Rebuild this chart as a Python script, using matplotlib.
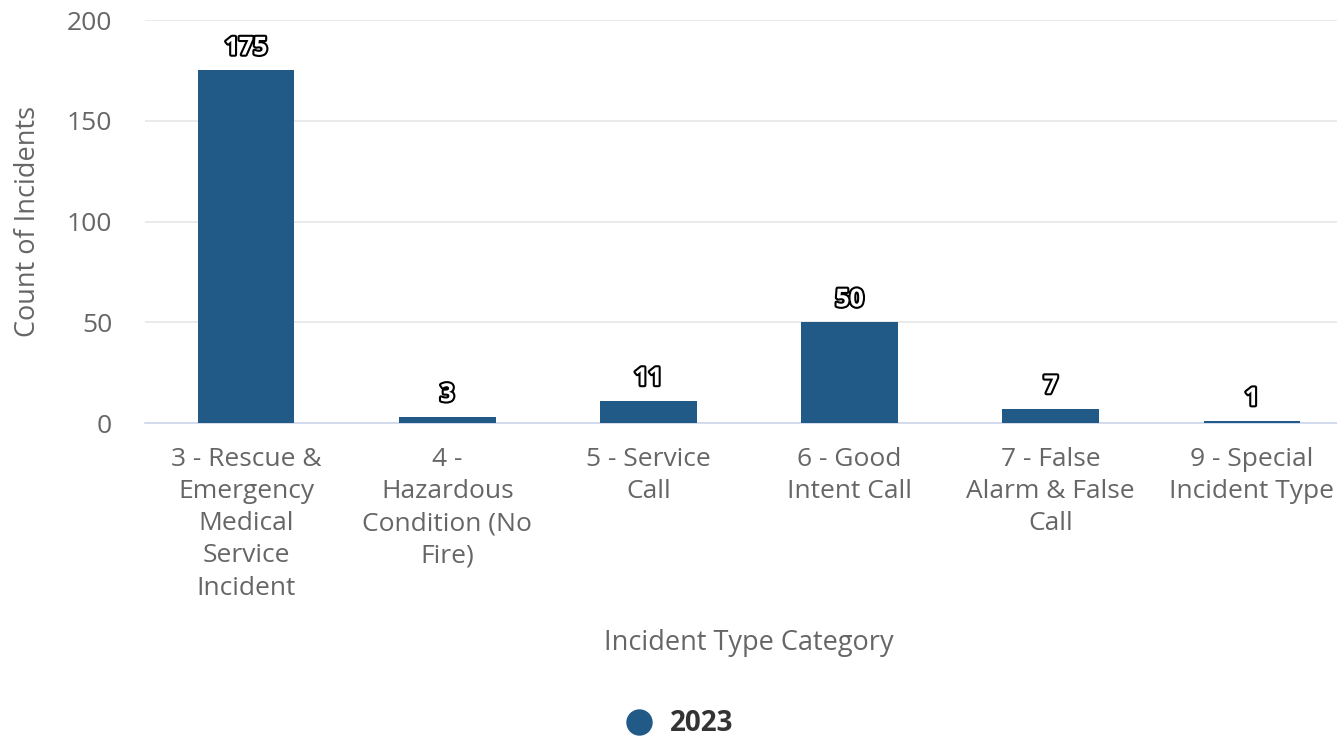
import matplotlib.pyplot as plt
import matplotlib.patheffects as pe
from matplotlib.lines import Line2D

# Incident counts for 2023
categories = [
    '3 - Rescue &\nEmergency\nMedical\nService\nIncident',
    '4 -\nHazardous\nCondition (No\nFire)',
    '5 - Service\nCall',
    '6 - Good\nIntent Call',
    '7 - False\nAlarm & False\nCall',
    '9 - Special\nIncident Type',
]
counts = [175, 3, 11, 50, 7, 1]
y_ticks = [0, 50, 100, 150, 200]
series_name = '2023'

bar_color = '#215987'
plt.rcParams['font.family'] = ['Open Sans', 'DejaVu Sans']

fig = plt.figure(figsize=(13.37, 7.41), dpi=100)
# plot area runs a little past the right edge, like the original
ax = fig.add_axes([0.1088, 0.4291, 0.9028, 0.5439])

x = list(range(len(categories)))
bars = ax.bar(x, counts, width=0.48, color=bar_color, zorder=3)

for xi, c in zip(x, counts):
    ax.annotate(str(c), (xi, c), xytext=(0, 7), textcoords='offset points',
                ha='center', va='bottom', fontsize=18, fontweight='bold',
                color='white',
                path_effects=[pe.Stroke(linewidth=3, foreground='black'), pe.Normal()])

ax.set_xlim(-0.5, len(categories) - 0.5)
ax.set_ylim(0, 200)
ax.set_yticks(y_ticks)
ax.set_xticks(x)
ax.set_xticklabels(categories, fontsize=19, color='#666666', linespacing=1.38)
ax.tick_params(axis='y', length=0, pad=24, labelsize=19, labelcolor='#666666')
ax.tick_params(axis='x', length=0, pad=17)

ax.grid(axis='y', color='#e6e6e6', linewidth=1.2, zorder=0)
for s in ['top', 'right', 'left']:
    ax.spines[s].set_visible(False)
ax.spines['bottom'].set_color('#ccd6eb')
ax.spines['bottom'].set_linewidth(1.2)

ax.set_xlabel('Incident Type Category', fontsize=19.5, color='#666666', va='center')
ax.xaxis.set_label_coords(0.5, -0.545)
ax.set_ylabel('Count of Incidents', fontsize=19.5, color='#666666', va='center')
ax.yaxis.set_label_coords(-0.097, 0.5)

handle = Line2D([], [], marker='o', linestyle='none', markersize=18,
                markerfacecolor=bar_color, markeredgecolor=bar_color)
leg = fig.legend([handle], [series_name], loc='center', bbox_to_anchor=(0.503, 0.023),
                 frameon=False, handletextpad=0.1, prop={'size': 20, 'weight': 'bold'})
for t in leg.get_texts():
    t.set_color('#333333')

fig.savefig('out.png', dpi=100)
